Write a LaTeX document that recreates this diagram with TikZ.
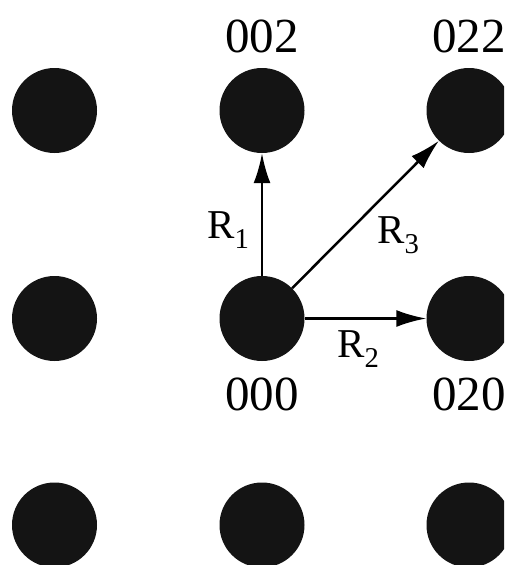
\documentclass[tikz,border=0pt]{standalone}
\usepackage{fontspec}
\setmainfont{Liberation Serif}
\usetikzlibrary{arrows.meta}
\begin{document}
\begin{tikzpicture}[x=1pt,y=-1pt,
  dot/.style={circle,fill=black!92,draw=none,minimum size=85pt,inner sep=0pt},
  lbl/.style={font=\fontsize{49}{55}\selectfont,inner sep=0pt},
  rlbl/.style={font=\fontsize{41}{48}\selectfont,inner sep=0pt},
  vec/.style={line width=2.5pt,-{Latex[length=30pt,width=17pt]}}]
\useasboundingbox (0,0) rectangle (504,565);
\begin{scope}
\clip (0,0) rectangle (504,565);
\node[dot] (a1) at (54.5,110.5) {};
\node[dot] (a2) at (262,110.5) {};
\node[dot] (a3) at (469,110.5) {};
\node[dot] (b1) at (54.5,318.5) {};
\node[dot] (b2) at (262,318.5) {};
\node[dot] (b3) at (469,318.5) {};
\node[dot] (c1) at (54.5,525) {};
\node[dot] (c2) at (262,525) {};
\node[dot] (c3) at (469,525) {};
\node[lbl,anchor=base] (t002) at (262,52) {002};
\node[lbl,anchor=base] (t022) at (469,52) {022};
\node[lbl,anchor=base] (t000) at (262,410) {000};
\node[lbl,anchor=base] (t020) at (469,410) {020};
\end{scope}
\draw[vec] (b2) -- (a2);
\draw[vec] (b2) -- (a3);
\draw[vec] (b2) -- (b3);
\node[rlbl,anchor=base west] (r1) at (207,238) {R\textsubscript{1}};
\node[rlbl,anchor=base west] (r3) at (377,243) {R\textsubscript{3}};
\node[rlbl,anchor=base west] (r2) at (337,357) {R\textsubscript{2}};
\end{tikzpicture}
\end{document}
